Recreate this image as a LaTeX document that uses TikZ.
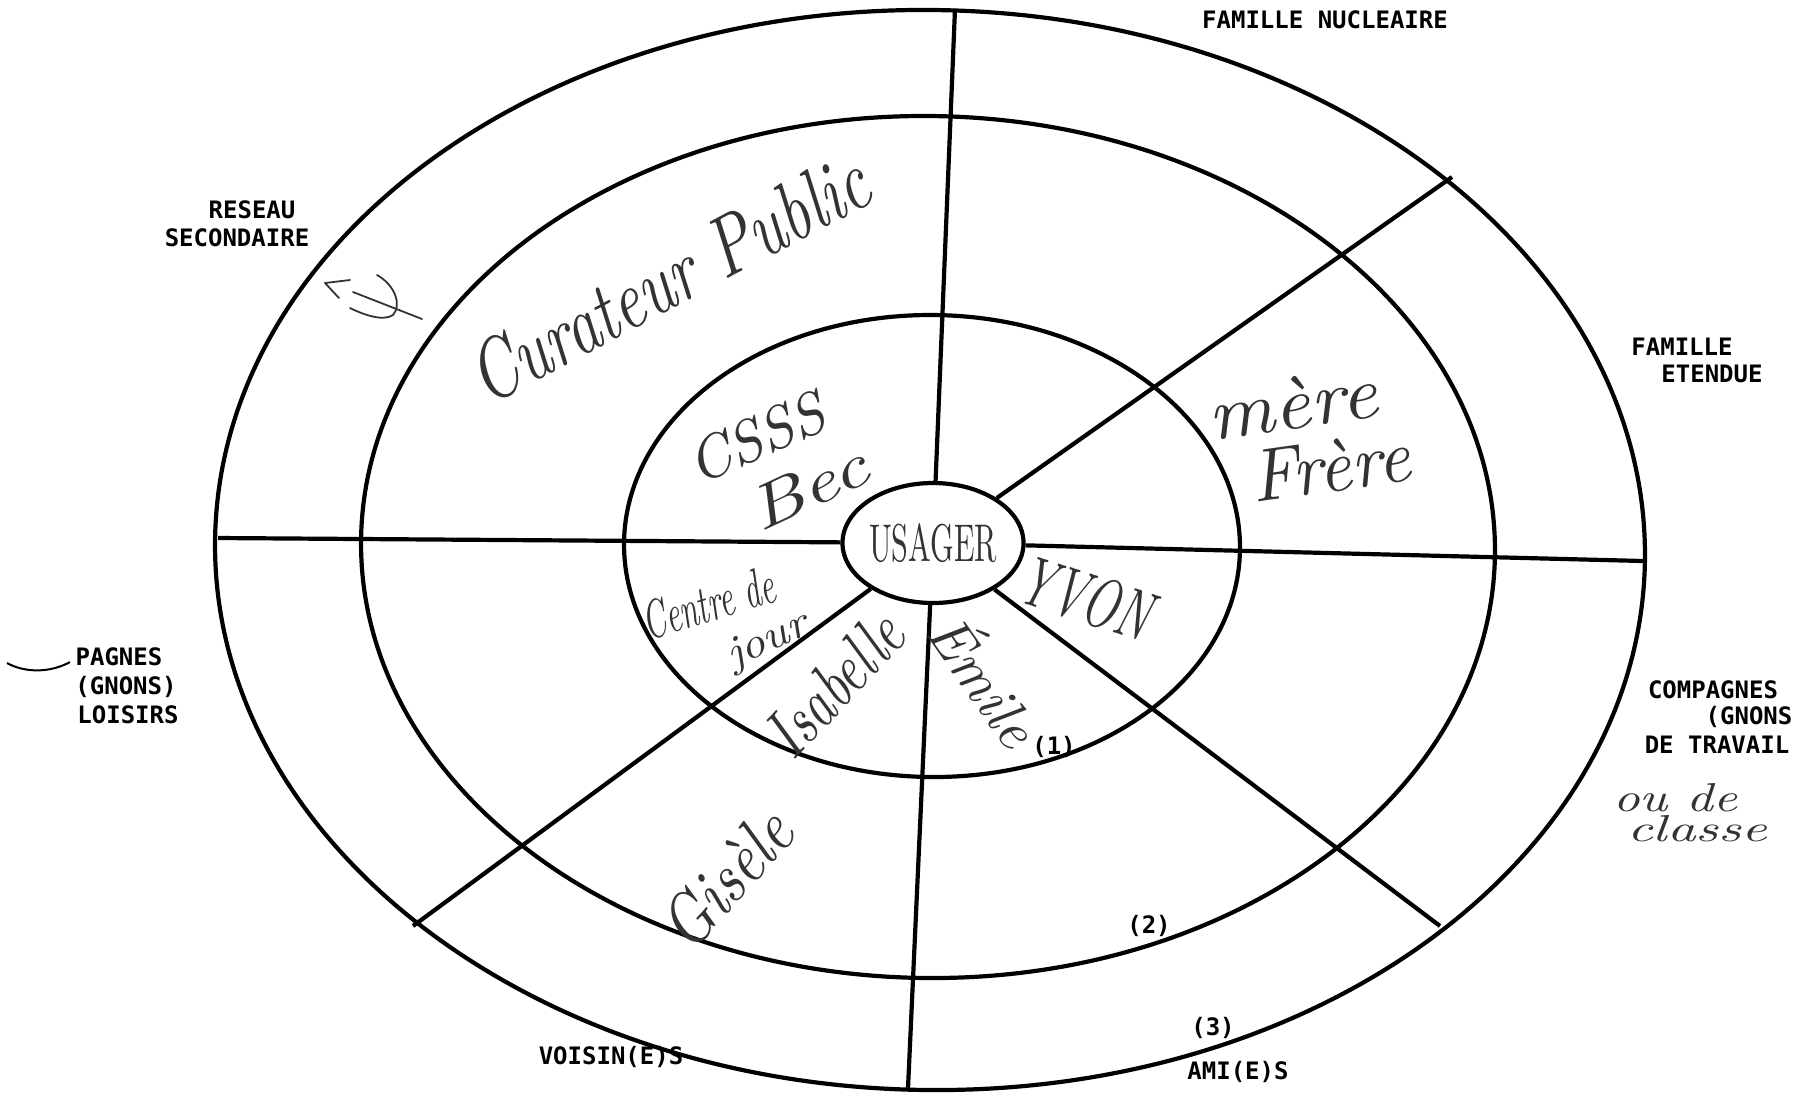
\documentclass[tikz,border=0pt]{standalone}
\usepackage{fontspec}
\usepackage{graphicx}
\newfontfamily\labfont{DejaVu Sans Mono}
\usetikzlibrary{shapes.geometric}
\tikzset{
  ring/.style={line width=2.1pt},
  spoke/.style={line width=2.1pt},
  lab/.style={font=\labfont\bfseries\fontsize{12}{14}\selectfont, inner sep=0pt},
  hand/.style={inner sep=0pt, text=black!80},
  scribble/.style={line width=0.9pt, draw=black!80, line cap=round, line join=round},
}
\newcommand{\handw}[3]{\resizebox{#1}{#2}{\itshape #3}}
\begin{document}
\begin{tikzpicture}[x=0.5pt,y=-0.5pt]
\useasboundingbox (0,0) rectangle (1814,1094);
\fill[white] (0,0) rectangle (1814,1094);
% rings
\draw[ring, rotate around={-0.9:(930,550)}] (930,550) ellipse [x radius=357.5pt, y radius=270pt];
\draw[ring, rotate around={-0.8:(928,547)}] (928,547) ellipse [x radius=283.5pt, y radius=215.5pt];
\draw[ring, rotate around={-0.6:(932,546)}] (932,546) ellipse [x radius=154pt, y radius=115.5pt];
% centre
\node[draw, ellipse, ring, minimum width=80pt, minimum height=60pt, inner sep=0pt, fill=white, text=black!80] (usager) at (933,543) {\resizebox{64pt}{19pt}{USAGER}};
% spoke ends
\coordinate (eN) at (955,9);
\coordinate (eNE) at (1452,177);
\coordinate (eE) at (1643,561);
\coordinate (eSE) at (1440,926);
\coordinate (eS) at (908,1088);
\coordinate (eSW) at (413,926);
\coordinate (eW) at (218,538);
\foreach \e in {eN,eNE,eE,eSE,eS,eSW,eW} \draw[spoke] (usager) -- (\e);
% printed labels
\node[lab] (fn) at (1325,20) {FAMILLE NUCLEAIRE};
\node[lab] (rs1) at (252,210) {RESEAU};
\node[lab] (rs2) at (237,238) {SECONDAIRE};
\node[lab] (fe1) at (1682,347) {FAMILLE};
\node[lab] (fe2) at (1712,374) {ETENDUE};
\node[lab] (pl1) at (119,657) {PAGNES};
\node[lab] (pl2) at (126,687) {(GNONS)};
\node[lab] (pl3) at (128,715) {LOISIRS};
\node[lab] (ct1) at (1713,690) {COMPAGNES};
\node[lab] (ct2) at (1749,717) {(GNONS};
\node[lab] (ct3) at (1717,745) {DE TRAVAIL};
\node[lab] (vo) at (611,1057) {VOISIN(E)S};
\node[lab] (am) at (1238,1072) {AMI(E)S};
\node[lab] (n3) at (1213,1028) {(3)};
\node[lab] (n2) at (1149,926) {(2)};
\node[lab] (n1) at (1054,747) {(1)};
% handwritten entries
\node[hand, rotate=28] (curateur) at (668,278) {\handw{220pt}{30pt}{Curateur Public}};
\node[hand, rotate=24] (csss) at (756,438) {\handw{72pt}{21pt}{CSSS}};
\node[hand, rotate=25] (bec) at (808,488) {\handw{62pt}{21pt}{Bec}};
\node[hand, rotate=17] (centre) at (708,603) {\handw{68pt}{19pt}{Centre de}};
\node[hand, rotate=25] (jour) at (768,642) {\handw{43pt}{14pt}{jour}};
\node[hand, rotate=47] (isabelle) at (834,684) {\handw{84pt}{24pt}{Isabelle}};
\node[hand, rotate=-55] (emile) at (988,678) {\handw{72pt}{26pt}{Émile}};
\node[hand, rotate=-18] (yvon) at (1086,598) {\handw{67pt}{25pt}{YVON}};
\node[hand, rotate=8] (mere) at (1292,403) {\handw{85pt}{26pt}{mère}};
\node[hand, rotate=8] (frere) at (1330,466) {\handw{80pt}{26pt}{Frère}};
\node[hand, rotate=48] (gisele) at (726,879) {\handw{80pt}{25pt}{Gisèle}};
\node[hand] (oude) at (1675,798) {\handw{62pt}{14pt}{ou de}};
\node[hand] (classe) at (1697,829) {\handw{70pt}{13pt}{classe}};
% psi sign with arrow
\draw[scribble] (377,275) .. controls (395,285) and (402,305) .. (393,315) .. controls (383,322) and (362,314) .. (350,308);
\draw[scribble] (353,292) -- (422,319);
\draw[scribble] (350,280) -- (325,283) -- (339,298);
% curve before PAGNES
\draw[line width=1pt] (7,663) .. controls (25,673) and (50,673) .. (70,662);
\end{tikzpicture}
\end{document}
